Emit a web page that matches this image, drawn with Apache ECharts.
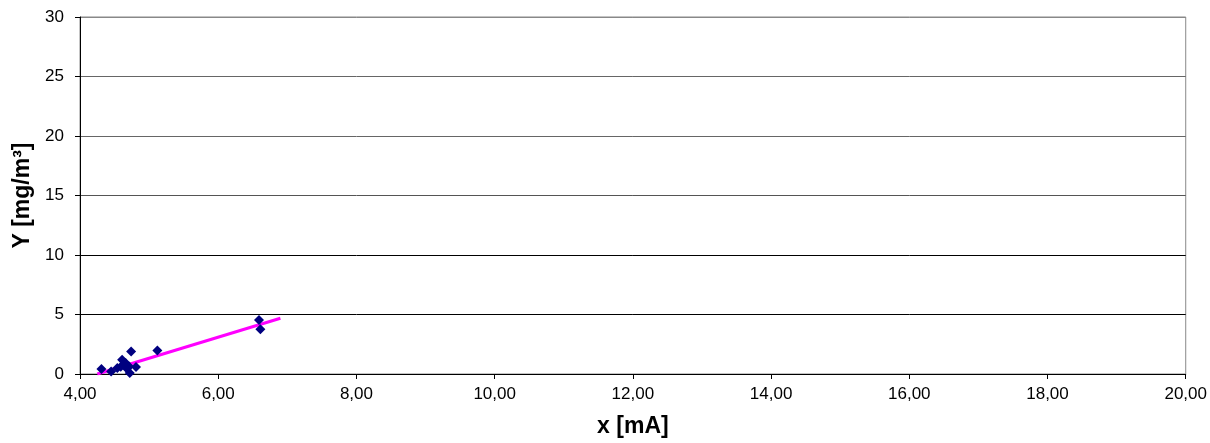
<!DOCTYPE html>
<html>
<head>
<meta charset="utf-8">
<script src="https://cdn.jsdelivr.net/npm/echarts@6/dist/echarts.min.js"></script>
<style>html,body{margin:0;padding:0;background:#fff;}#c{width:1210px;height:443px;}</style>
</head>
<body>
<div id="c"></div>
<script>
var pointsX = [4.31, 4.45, 4.54, 4.59, 4.61, 4.66, 4.68, 4.71, 4.72, 4.74, 4.81, 5.12, 6.59, 6.61];
var pointsY = [0.42, 0.22, 0.50, 0.60, 1.20, 0.92, 0.45, 0.64, 0.08, 1.89, 0.58, 1.98, 4.54, 3.76];
var trendX = [4.25, 6.90];
var trendY = [0.00, 4.68];
var xTitle = 'x [mA]';
var yTitle = 'Y [mg/m³]';

var scatterData = pointsX.map(function (x, i) { return [x, pointsY[i]]; });
var trendData = trendX.map(function (x, i) { return [x, trendY[i]]; });

var FONT = 'Liberation Sans, Arial, sans-serif';
var chart = echarts.init(document.getElementById('c'));
chart.setOption({
  animation: false,
  backgroundColor: '#fff',
  grid: { left: 80, right: 23, top: 17, bottom: 67, show: true, borderColor: '#888', borderWidth: 1 },
  xAxis: {
    type: 'value', min: 4, max: 20, interval: 2,
    name: xTitle, nameLocation: 'middle', nameGap: 41,
    nameTextStyle: { fontFamily: FONT, fontWeight: 'bold', fontSize: 23, color: '#000' },
    axisLine: { show: true, onZero: false, lineStyle: { color: '#000', width: 1 } },
    axisTick: { show: true, inside: false, length: 5, lineStyle: { color: '#000' } },
    axisLabel: { fontFamily: FONT, fontSize: 17, color: '#000', margin: 12,
      formatter: function (v) { return v.toFixed(2).replace('.', ','); } },
    splitLine: { show: false }
  },
  yAxis: {
    type: 'value', min: 0, max: 30, interval: 5,
    name: yTitle, nameLocation: 'middle', nameGap: 46, nameRotate: 90,
    nameTextStyle: { fontFamily: FONT, fontWeight: 'bold', fontSize: 23, color: '#000' },
    axisLine: { show: true, lineStyle: { color: '#000', width: 1 } },
    axisTick: { show: true, inside: false, length: 5, lineStyle: { color: '#000' } },
    axisLabel: { fontFamily: FONT, fontSize: 17, color: '#000', margin: 16 },
    splitLine: { show: true, lineStyle: { color: ['#000', '#000', '#000', '#555', '#666', '#666', '#888'], width: 1 } }
  },
  series: [
    {
      type: 'line', data: trendData, showSymbol: false, symbol: 'none',
      lineStyle: { color: '#FF00FF', width: 3 }, z: 3
    },
    {
      type: 'scatter', data: scatterData, symbol: 'diamond', symbolSize: 10,
      itemStyle: { color: '#000080', opacity: 1 }, z: 4
    }
  ]
});
</script>
</body>
</html>
